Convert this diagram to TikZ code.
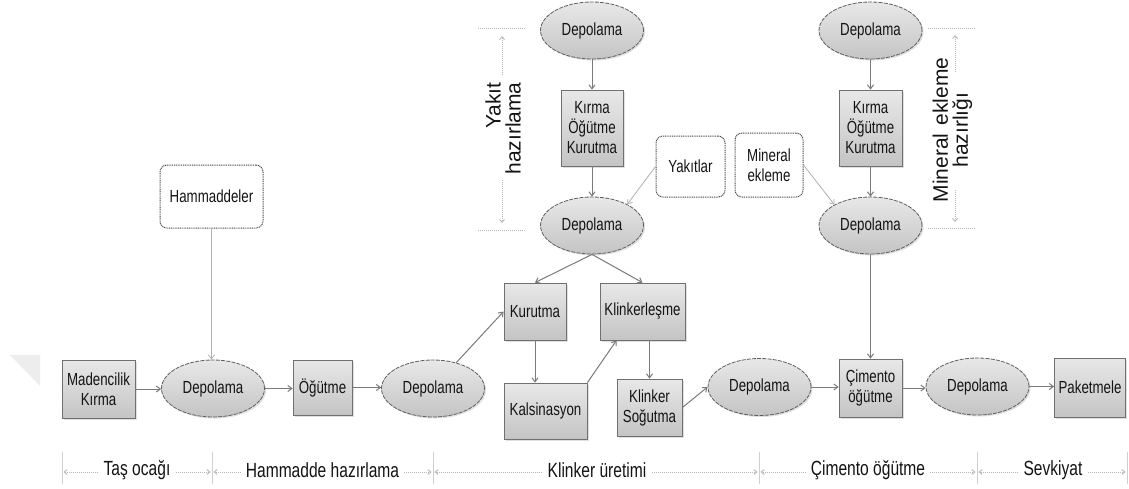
\documentclass[tikz,border=0pt]{standalone}
\usepackage{fontspec}
\setmainfont{Liberation Sans}
\newfontfamily\dgnarrow{Liberation Sans}[FakeStretch=0.76]
\usetikzlibrary{arrows.meta,shapes.geometric,shadows,calc}
\definecolor{boxtop}{HTML}{E8E8E8}
\definecolor{boxbot}{HTML}{C4C4C4}
\definecolor{boxdraw}{HTML}{707070}
\definecolor{ellline}{HTML}{5E5E5E}
\definecolor{txt}{HTML}{141414}
\definecolor{arrowc}{HTML}{7A7A7A}
\definecolor{lightarrow}{HTML}{B0B0B0}
\definecolor{dotdraw}{HTML}{4A4A4A}
\definecolor{axisc}{HTML}{B8B8B8}
\definecolor{sepc}{HTML}{CFCFCF}
\definecolor{wmark}{HTML}{EDEDED}
\newcommand\dgnodefont{\dgnarrow\fontsize{17.5}{20}\selectfont}
\newcommand\dgaxisfont{\dgnarrow\fontsize{20.5}{22}\selectfont}
\newcommand\dgsidefont{\fontsize{21}{20}\selectfont}
\tikzset{
  procbox/.style={draw=boxdraw, line width=0.8pt, top color=boxtop, bottom color=boxbot,
    inner sep=0pt, align=center, font=\dgnodefont, text=txt,
    drop shadow={shadow xshift=1.5pt, shadow yshift=-1.5pt, opacity=0.25}},
  store/.style={ellipse, draw=ellline, line width=0.8pt, dash pattern=on 4pt off 1.2pt,
    top color=boxtop, bottom color=boxbot, inner sep=0pt, font=\dgnodefont, text=txt,
    minimum width=103pt, minimum height=57pt,
    drop shadow={shadow xshift=1.5pt, shadow yshift=-1.5pt, opacity=0.25}},
  source/.style={draw=dotdraw, rounded corners=7pt, line width=1pt, dash pattern=on 1pt off 0.8pt,
    fill=white, inner sep=0pt, align=center, font=\dgnodefont, text=txt},
  flow/.style={draw=arrowc, line width=1pt, -{Straight Barb[length=4pt,width=6pt]}},
  lightflow/.style={draw=lightarrow, line width=0.8pt, -{Straight Barb[length=4pt,width=6pt]}},
  axislab/.style={inner sep=0pt, font=\dgaxisfont, text=txt},
  axisarrow/.style={draw=axisc, line width=0.9pt, dash pattern=on 1pt off 1pt,
    -{Straight Barb[length=3pt,width=5pt]}, shorten <=5pt, shorten >=1.5pt},
  sepline/.style={draw=sepc, line width=0.8pt},
  sidelab/.style={inner sep=0pt, font=\dgsidefont, text=txt, rotate=90},
  sidearrow/.style={draw=axisc, line width=0.9pt, dash pattern=on 1pt off 1pt,
    -{Straight Barb[length=3pt,width=5pt]}},
  sideline/.style={draw=axisc, line width=0.9pt, dash pattern=on 1pt off 1pt}
}
\begin{document}
\begin{tikzpicture}[x=1pt,y=-1pt]
\useasboundingbox (0,0) rectangle (1129,488);
\fill[white] (0,0) rectangle (1129,488);
% faint watermark triangle
\fill[wmark] (10,355) -- (40,355) -- (40,386) -- cycle;

% main row
\node[procbox, minimum width=73pt, minimum height=58pt] (mad) at (98.5,389) {Madencilik\\Kırma};
\node[store] (dep1) at (213,388.5) {Depolama};
\node[source, minimum width=103pt, minimum height=63pt] (ham) at (211.5,196.5) {Hammaddeler};
\node[procbox, minimum width=59pt, minimum height=55pt] (ogut) at (322.5,387.5) {Öğütme};
\node[store] (dep2) at (433,388.5) {Depolama};
\node[procbox, minimum width=62pt, minimum height=57pt] (kur) at (535,311.5) {Kurutma};
\node[procbox, minimum width=83pt, minimum height=56pt] (kal) at (545.5,411) {Kalsinasyon};
\node[procbox, minimum width=85pt, minimum height=57pt] (klk) at (642.5,311.5) {Klinkerleşme};
\node[procbox, minimum width=65pt, minimum height=57pt] (sog) at (649.5,407.5) {Klinker\\Soğutma};
\node[store] (dep3) at (759.5,387) {Depolama};
\node[procbox, minimum width=63pt, minimum height=58pt] (cim) at (870.5,388) {Çimento\\öğütme};
\node[store] (dep4) at (977.5,386.5) {Depolama};
\node[procbox, minimum width=71pt, minimum height=59pt] (pak) at (1090,387.5) {Paketmele};

% fuel column
\node[store] (depLt) at (592,30.5) {Depolama};
\node[procbox, minimum width=62pt, minimum height=76pt] (kirL) at (592,128) {Kırma\\Öğütme\\Kurutma};
\node[store] (depLm) at (592,225.5) {Depolama};
\node[source, minimum width=69pt, minimum height=61pt] (yak) at (690.5,166.5) {Yakıtlar};

% mineral column
\node[source, minimum width=68pt, minimum height=64pt] (min) at (769,165) {Mineral\\ekleme};
\node[store] (depRt) at (870.5,30.5) {Depolama};
\node[procbox, minimum width=63pt, minimum height=76pt] (kirR) at (870.5,128) {Kırma\\Öğütme\\Kurutma};
\node[store] (depRm) at (870.5,225.5) {Depolama};

% connectors
\draw[flow] (mad.east) -- (mad.east -| dep1.west);
\draw[lightflow] (ham.south) -- (ham.south |- dep1.north);
\draw[flow] (dep1.east) -- (dep1.east -| ogut.west);
\draw[flow] (ogut.east) -- (ogut.east -| dep2.west);
\draw[flow] (dep2.48) -- (kur.west);
\draw[flow] (kur.south) -- (kur.south |- kal.north);
\draw[flow] (kal.north east) -- (klk.228);
\draw[flow] (sog.north |- klk.south) -- (sog.north);
\draw[flow] (sog.east) -- (dep3.west);
\draw[flow] (dep3.east) -- (dep3.east -| cim.west);
\draw[flow] (cim.east) -- (cim.east -| dep4.west);
\draw[flow] (dep4.east) -- (dep4.east -| pak.west);

\draw[flow] (depLt.south) -- (kirL.north);
\draw[flow] (kirL.south) -- (depLm.north);
\draw[lightflow] (yak.west) -- (depLm.31);
\draw[flow] (depLm.south) -- (kur.north);
\draw[flow] (depLm.south) -- (klk.north);

\draw[flow] (depRt.south) -- (kirR.north);
\draw[flow] (kirR.south) -- (depRm.north);
\draw[lightflow] (min.east) -- (depRm.150);
\draw[flow] (depRm.south) -- (cim.north);

% side labels
\node[sidelab, align=right] (yl) at (503,128.5) {Yakıt\\hazırlama};
\coordinate (ya1) at (502,75);
\coordinate (ya2) at (502,36);
\coordinate (yb1) at (502,180);
\coordinate (yb2) at (502,223);
\draw[sidearrow] (ya1) -- (ya2);
\draw[sidearrow] (yb1) -- (yb2);
\draw[sideline] (478,28) -- (525,28);
\draw[sideline] (478,230) -- (525,230);

\node[sidelab, align=center] (ml) at (952.5,130) {Mineral\hspace{8pt}ekleme\\hazırlığı};
\coordinate (ma1) at (955,72);
\coordinate (ma2) at (955,35);
\coordinate (mb1) at (955,190);
\coordinate (mb2) at (955,222);
\draw[sidearrow] (ma1) -- (ma2);
\draw[sidearrow] (mb1) -- (mb2);
\draw[sideline] (928,28) -- (975,28);
\draw[sideline] (928,228) -- (975,228);

% bottom phase axis
\foreach \i/\x in {0/62,1/212,2/433,3/759,4/977,5/1127}{
  \coordinate (s\i) at (\x,472);
  \draw[sepline] (\x,452) -- (\x,484);
}
\node[axislab] (p1) at (137,470) {Taş ocağı};
\node[axislab] (p2) at (322.5,470) {Hammadde hazırlama};
\node[axislab] (p3) at (597,470) {Klinker üretimi};
\node[axislab] (p4) at (868,470) {Çimento öğütme};
\node[axislab] (p5) at (1053,470) {Sevkiyat};
\draw[axisarrow] (p1.west |- s0) -- (s0);
\draw[axisarrow] (p1.east |- s1) -- (s1);
\draw[axisarrow] (p2.west |- s1) -- (s1);
\draw[axisarrow] (p2.east |- s2) -- (s2);
\draw[axisarrow] (p3.west |- s2) -- (s2);
\draw[axisarrow] (p3.east |- s3) -- (s3);
\draw[axisarrow] (p4.west |- s3) -- (s3);
\draw[axisarrow] (p4.east |- s4) -- (s4);
\draw[axisarrow] (p5.west |- s4) -- (s4);
\draw[axisarrow] (p5.east |- s5) -- (s5);
\end{tikzpicture}
\end{document}
